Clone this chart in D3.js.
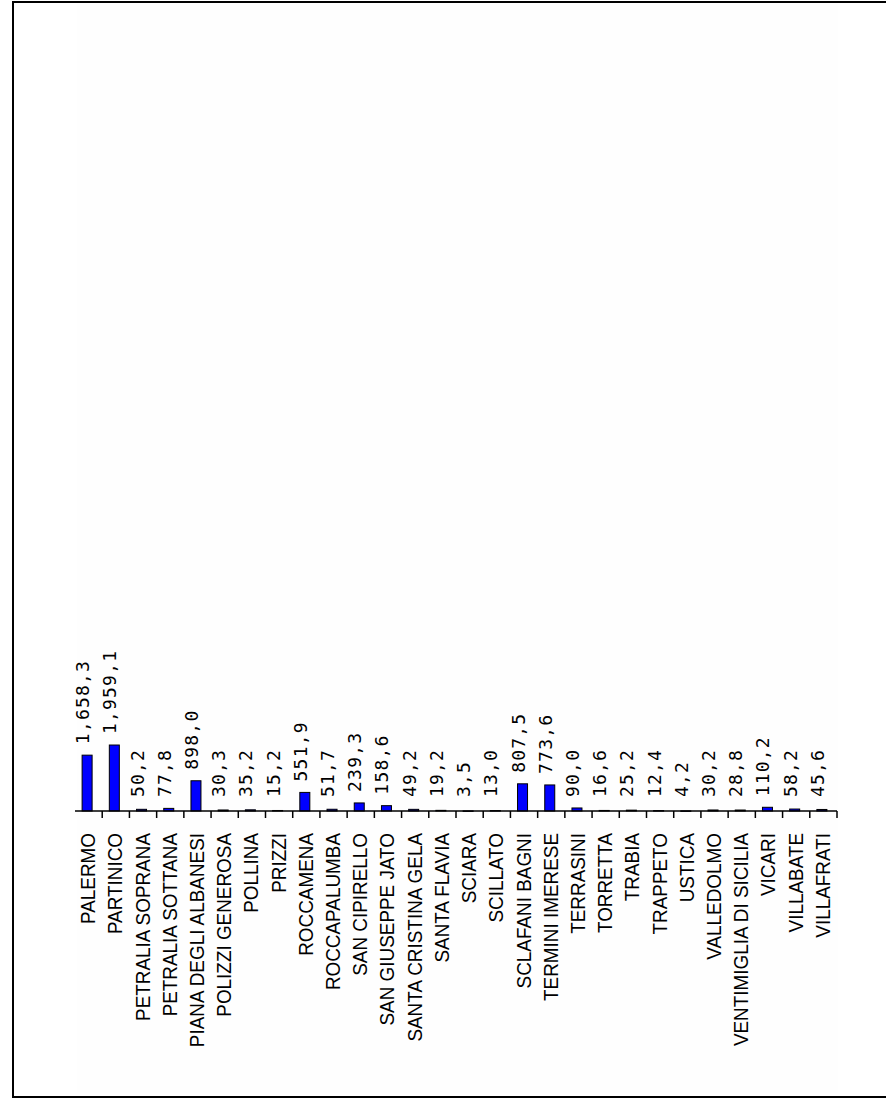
<!DOCTYPE html>
<html lang="en">
<head>
    <meta charset="UTF-8">
    <title>Comuni</title>
    <script src="https://d3js.org/d3.v7.min.js"></script>
    <style>
        body { margin: 0; background: #fff; }
        .frame { fill: none; stroke: #000; stroke-width: 2px; }
        .plotbg { fill: #fefefe; }
        .bar { fill: #0000ff; stroke: #000; stroke-width: 1px; }
        .axis-line, .tick { stroke: #000; stroke-width: 1.5px; }
        .val { font-family: "DejaVu Sans Mono", monospace; font-size: 18px; letter-spacing: 1.2px; fill: #000; }
        .cat { font-family: "Liberation Sans Narrow", "Liberation Sans", sans-serif; font-size: 21px; fill: #000; }
    </style>
</head>
<body>
<div id="container"></div>
<script>
// comuni and values
const comuni = ["PALERMO", "PARTINICO", "PETRALIA SOPRANA", "PETRALIA SOTTANA", "PIANA DEGLI ALBANESI",
    "POLIZZI GENEROSA", "POLLINA", "PRIZZI", "ROCCAMENA", "ROCCAPALUMBA", "SAN CIPIRELLO",
    "SAN GIUSEPPE JATO", "SANTA CRISTINA GELA", "SANTA FLAVIA", "SCIARA", "SCILLATO",
    "SCLAFANI BAGNI", "TERMINI IMERESE", "TERRASINI", "TORRETTA", "TRABIA", "TRAPPETO",
    "USTICA", "VALLEDOLMO", "VENTIMIGLIA DI SICILIA", "VICARI", "VILLABATE", "VILLAFRATI"];
const valori = [1658.3, 1959.1, 50.2, 77.8, 898.0, 30.3, 35.2, 15.2, 551.9, 51.7, 239.3,
    158.6, 49.2, 19.2, 3.5, 13.0, 807.5, 773.6, 90.0, 16.6, 25.2, 12.4,
    4.2, 30.2, 28.8, 110.2, 58.2, 45.6];
const yMax = 22300;

const width = 886, height = 1099;
const axisY = 811, left = 75, right = 837;

const svg = d3.select("#container").append("svg")
    .attr("width", width).attr("height", height);

// frame (no right edge, it runs off the page)
svg.append("path").attr("class", "frame")
    .attr("d", `M${width + 5},2 H13 V1097 H${width + 5}`);
svg.append("rect").attr("class", "plotbg")
    .attr("x", 77).attr("y", 3).attr("width", 761).attr("height", 1090);

const x = d3.scaleBand().domain(comuni).range([left, right]);
const y = d3.scaleLinear().domain([0, yMax]).range([axisY, 60]);
const bw = 10;
const cx = d => x(d) + x.bandwidth() / 2 - 1.5;

// bars
svg.selectAll(".bar").data(comuni).enter().append("rect")
    .attr("class", "bar")
    .attr("x", d => cx(d) - bw / 2)
    .attr("y", (d, i) => y(valori[i]))
    .attr("width", bw)
    .attr("height", (d, i) => Math.max(axisY - y(valori[i]), 0.5));

// axis
svg.append("line").attr("class", "axis-line")
    .attr("x1", left).attr("x2", right).attr("y1", axisY).attr("y2", axisY);
svg.selectAll(".tick").data(comuni).enter().append("line")
    .attr("class", "tick")
    .attr("x1", d => x(d) + x.bandwidth()).attr("x2", d => x(d) + x.bandwidth())
    .attr("y1", axisY).attr("y2", axisY + 7);

// comma for both separators as in the picture
const fmt = v => d3.format(",.1f")(v).replace(".", "#").replace("#", ",");

// value labels
svg.selectAll(".val").data(comuni).enter().append("text")
    .attr("class", "val")
    .attr("transform", (d, i) => {
        const yy = Math.min(y(valori[i]) - 11, 797);
        return `translate(${cx(d) + 2},${yy}) rotate(-90)`;
    })
    .text((d, i) => fmt(valori[i]));

// category labels
svg.selectAll(".cat").data(comuni).enter().append("text")
    .attr("class", "cat")
    .attr("text-anchor", "end")
    .attr("transform", d => `translate(${cx(d) + 8},${axisY + 22}) rotate(-90) scale(0.9,1)`)
    .text(d => d);
</script>
</body>
</html>
